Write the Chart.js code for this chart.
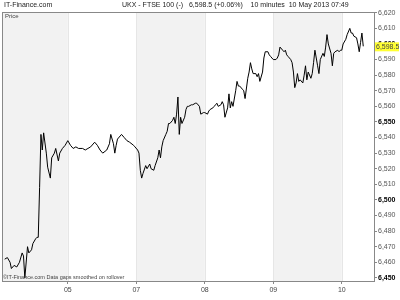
<!DOCTYPE html>
<html>
<head>
<meta charset="utf-8">
<script src="https://cdn.jsdelivr.net/npm/chart.js@4.4.1/dist/chart.umd.min.js"></script>
<style>
  html, body { margin: 0; padding: 0; background: #fff; }
  #wrap { width: 400px; height: 300px; }
</style>
</head>
<body>
<div id="wrap"><canvas id="myChart" width="400" height="300"></canvas></div>
<script>
// bar index (10 minute bars) and close price
var bars = [2,4,6,7,9,11,13,15,16,17,19,20,22,23,25,26,27,28,29,30,31,33,34,36,37,39,40,42,43,45,47,49,
  51,53,55,57,60,62,64,66,69,71,73,75,78,80,81,83,84,85,86,89,91,93,95,98,99,101,
  102,103,104,105,107,108,110,111,113,114,116,117,118,119,120,122,123,124,125,127,128,129,130,131,132,133,134,136,137,138,139,141,142,144,145,147,148,150,151,
  153,154,155,157,158,159,160,161,163,164,165,166,168,169,170,171,172,174,175,176,177,179,180,181,183,184,185,186,187,189,190,191,192,194,195,196,198,199,200,201,202,
  204,205,206,207,209,210,211,212,213,215,216,217,218,219,220,221,222,224,225,226,227,228,230,231,232,233,235,236,237,239,240,241,242,243,245,246,247,248,250,251,252,
  253,254,256,257,259,260,261,262,264,265,266,267,268,269];
var prices = [6462,6463,6460,6456,6458,6457,6460,6466,6464,6450,6470,6466,6468,6472,6475,6476,6476,6508,6542,6532,6543,6530,6521,6514,6527,6530,6533,6525,6530,6533,6535,6538,
  6535,6533,6534,6533,6533,6532,6533,6534,6537,6535,6532,6530,6532,6536,6542,6536,6530,6535,6539,6542,6540,6538,6537,6535,6534,6532,
  6530,6519,6514,6517,6522,6520,6523,6520,6519,6522,6527,6532,6527,6534,6538,6542,6544,6549,6549,6551,6553,6549,6555,6566,6542,6553,6549,6553,6558,6560,6560,6561,6561,6562,6562,6560,6555,6556,6556,
  6555,6557,6558,6559,6560,6561,6562,6560,6561,6563,6561,6553,6559,6568,6559,6563,6560,6570,6576,6573,6573,6571,6570,6565,6578,6582,6588,6584,6581,6581,6579,6581,6576,6582,6591,6595,6595,6593,6592,6591,6590,
  6590,6591,6593,6598,6596,6595,6596,6593,6592,6590,6588,6582,6572,6575,6581,6576,6577,6575,6580,6586,6577,6582,6578,6581,6588,6596,6586,6581,6590,6594,6592,6598,6606,6600,6594,6586,6594,6595,6596,6595,6596,
  6596,6600,6603,6606,6610,6607,6607,6605,6604,6600,6595,6601,6607,6598.5];

var dayStarts = [49, 100, 151, 202, 253];   // bar index where each day label sits
var dayLabels = ['05', '07', '08', '09', '10'];
var priceTicks = [6450,6460,6470,6480,6490,6500,6510,6520,6530,6540,6550,6560,6570,6580,6590,6600,6610,6620];
var lastPrice = 6598.5;

var FONT = '"Liberation Sans Narrow", "Liberation Sans", Arial, sans-serif';

var points = [];
for (var i = 0; i < bars.length; i++) {
  points.push({x: bars[i], y: prices[i]});
}

function fmt(v) {
  var s = v.toFixed(v % 1 ? 1 : 0);
  var p = s.split('.');
  p[0] = p[0].replace(/\B(?=(\d{3})+(?!\d))/g, ',');
  return p.join('.');
}

function isMajor(ctx) {
  return ctx.tick && ctx.tick.value % 50 === 0;
}

// grey bands for every other day
var bands = {
  id: 'bands',
  beforeDatasetsDraw: function (chart) {
    var c = chart.ctx, a = chart.chartArea, xs = chart.scales.x;
    var edges = [xs.min].concat(dayStarts).concat([xs.max]);
    c.save();
    for (var i = 0; i < edges.length - 1; i += 2) {
      var x0 = xs.getPixelForValue(edges[i]);
      var x1 = xs.getPixelForValue(edges[i + 1]);
      c.fillStyle = '#f2f2f2';
      c.fillRect(x0, a.top, x1 - x0, a.bottom - a.top);
    }
    c.strokeStyle = '#e6e6e6';
    c.lineWidth = 1;
    for (var j = 0; j < dayStarts.length; j++) {
      var x = Math.round(xs.getPixelForValue(dayStarts[j])) + 0.5;
      c.beginPath(); c.moveTo(x, a.top); c.lineTo(x, a.bottom); c.stroke();
    }
    c.restore();
  }
};

var texts = {
  id: 'texts',
  afterDraw: function (chart) {
    var c = chart.ctx, a = chart.chartArea, ys = chart.scales.y;
    c.save();
    // frame
    c.strokeStyle = '#888';
    c.lineWidth = 1;
    c.strokeRect(Math.round(a.left) + 0.5, Math.round(a.top) + 0.5, Math.round(a.right - a.left), Math.round(a.bottom - a.top));
    c.fillStyle = '#222';
    c.textBaseline = 'middle';
    c.font = '7px ' + FONT;
    c.textAlign = 'left';
    c.fillText('IT-Finance.com', 4, 5);
    c.fillText('UKX - FTSE 100 (-)   6,598.5 (+0.06%)    10 minutes  10 May 2013 07:49', 122, 5);
    c.fillStyle = '#444';
    c.font = '6px ' + FONT;
    c.fillText('Price', a.left + 3, a.top + 4);
    c.font = '5.5px ' + FONT;
    c.fillText('\u00a9IT-Finance.com Data gaps smoothed on rollover', a.left + 1, a.bottom - 4);
    // last price tag
    var y = ys.getPixelForValue(lastPrice);
    c.fillStyle = '#ffff33';
    c.fillRect(a.right + 1, y - 4, 24, 9);
    c.fillStyle = '#444';
    c.font = '7px ' + FONT;
    c.fillText(fmt(lastPrice), a.right + 2, y + 0.5);
    c.restore();
  }
};

new Chart('myChart', {
  type: 'line',
  data: {
    datasets: [{
      data: points,
      borderColor: '#000',
      borderWidth: 1,
      pointRadius: 0,
      tension: 0,
      fill: false
    }]
  },
  plugins: [bands, texts],
  options: {
    responsive: false,
    animation: false,
    events: [],
    layout: { padding: { top: 12, left: 2, right: 0, bottom: 0 } },
    plugins: { legend: { display: false }, tooltip: { enabled: false } },
    scales: {
      x: {
        type: 'linear',
        min: 0,
        max: 277,
        afterBuildTicks: function (s) { s.ticks = dayStarts.map(function (v) { return {value: v}; }); },
        afterFit: function (s) { s.height = 19; },
        ticks: {
          autoSkip: false,
          maxRotation: 0,
          padding: 2,
          color: '#444',
          font: { family: FONT, size: 7 },
          callback: function (v) { return dayLabels[dayStarts.indexOf(v)]; }
        },
        grid: { drawOnChartArea: false, tickLength: 3, tickColor: '#888' },
        border: { color: '#888' }
      },
      y: {
        position: 'right',
        min: 6448,
        max: 6620.5,
        afterBuildTicks: function (s) { s.ticks = priceTicks.map(function (v) { return {value: v}; }); },
        afterFit: function (s) { s.width = 26; },
        ticks: {
          padding: 1,
          color: function (ctx) { return isMajor(ctx) ? '#000' : '#555'; },
          font: function (ctx) { return { family: FONT, size: 7, weight: isMajor(ctx) ? 'bold' : 'normal' }; },
          callback: function (v) { return fmt(v); }
        },
        grid: { drawOnChartArea: false, tickLength: 3, tickColor: '#888' },
        border: { color: '#888' }
      }
    }
  }
});
</script>
</body>
</html>
